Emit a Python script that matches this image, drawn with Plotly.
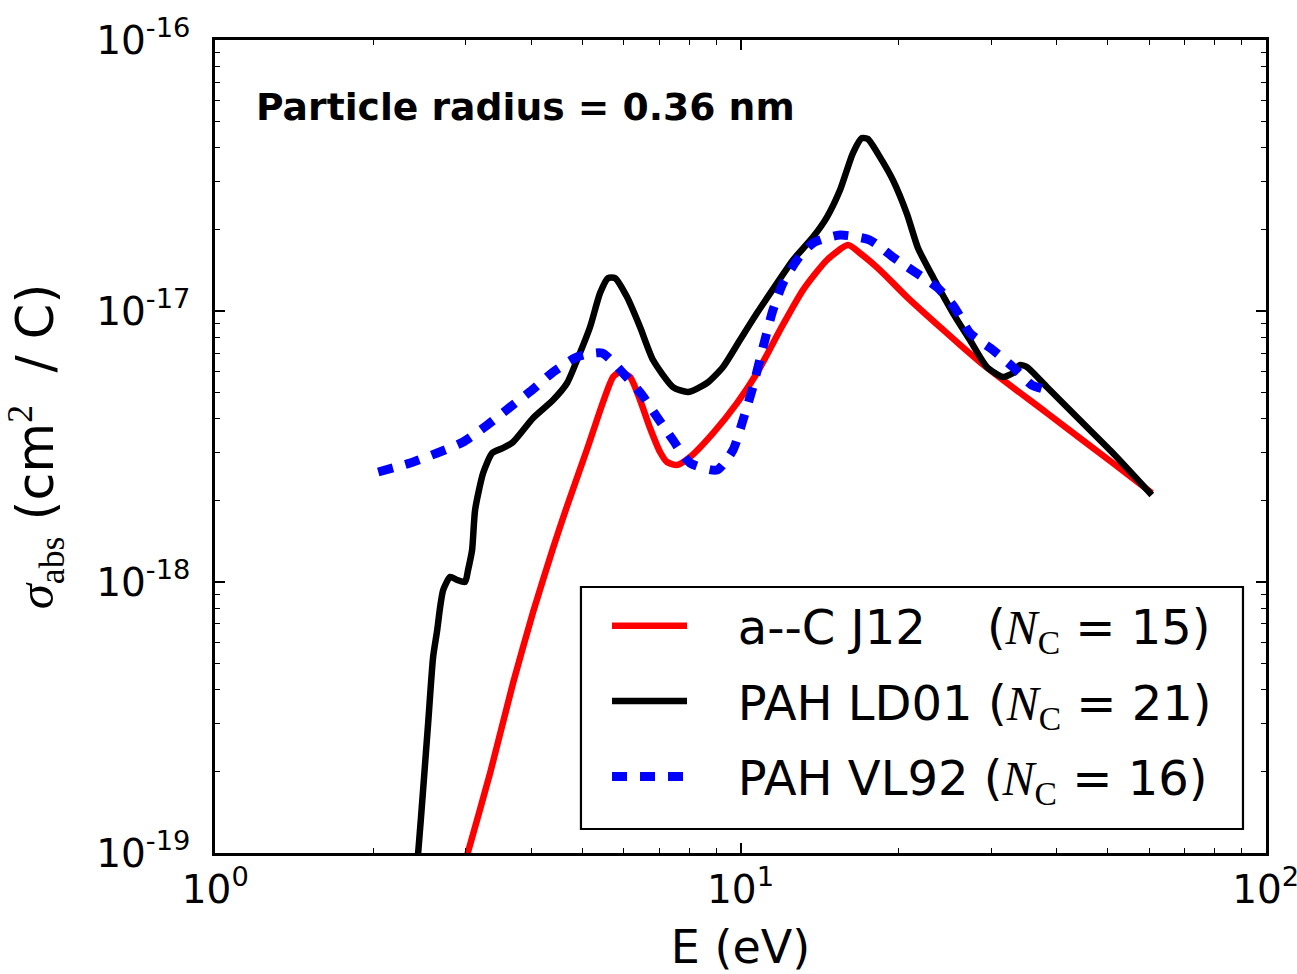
import plotly.graph_objects as go

# ---- data (E in eV, sigma in cm^2/C) ----
E_red = [2.925, 3.029, 3.337, 3.690, 4.029, 4.397, 4.676, 5.105, 5.473, 5.719, 5.897,
         6.163, 6.438, 6.725, 7.028, 7.246, 7.570, 8.015, 8.867, 9.847, 10.75, 11.89,
         13.15, 14.61, 16.02, 16.88, 18.43, 20.75, 28.56, 38.31, 51.15, 60.68]
S_red = [7.95e-20, 1.009e-19, 1.973e-19, 4.24e-19, 7.75e-19, 1.335e-18, 1.908e-18,
         3.095e-18, 4.615e-18, 5.708e-18, 5.955e-18, 5.708e-18, 4.694e-18, 3.70e-18,
         3.018e-18, 2.772e-18, 2.702e-18, 2.893e-18, 3.546e-18, 4.575e-18, 5.904e-18,
         8.508e-18, 1.195e-17, 1.543e-17, 1.752e-17, 1.637e-17, 1.417e-17, 1.126e-17,
         6.485e-18, 4.203e-18, 2.749e-18, 2.13e-18]

E_black = [2.413, 2.434, 2.487, 2.543, 2.599, 2.646, 2.680, 2.716, 2.801, 2.887, 2.990,
           3.029, 3.083, 3.124, 3.236, 3.367, 3.532, 3.690, 4.029, 4.397, 4.676, 4.885,
           5.171, 5.403, 5.596, 5.770, 6.081, 6.438, 6.816, 7.438, 7.946, 8.636, 9.262,
           9.977, 10.75, 11.74, 12.59, 13.74, 14.61, 15.47, 16.37, 17.03, 17.48, 18.43,
           19.51, 20.75, 21.77, 23.25, 25.38, 27.34, 29.45, 31.59, 33.00, 34.02, 35.09,
           38.31, 44.26, 51.15, 60.68]
S_black = [8.65e-20, 1.0e-19, 1.708e-19, 3.02e-19, 5.29e-19, 6.65e-19, 8.08e-19, 9.34e-19,
           1.044e-18, 1.017e-18, 1.0e-18, 1.107e-18, 1.312e-18, 1.844e-18, 2.525e-18,
           2.992e-18, 3.123e-18, 3.286e-18, 4.03e-18, 4.694e-18, 5.424e-18, 6.595e-18,
           8.73e-18, 1.165e-17, 1.323e-17, 1.323e-17, 1.126e-17, 8.73e-18, 6.595e-18,
           5.243e-18, 5.024e-18, 5.424e-18, 6.215e-18, 7.816e-18, 9.83e-18, 1.268e-17,
           1.543e-17, 1.875e-17, 2.223e-17, 2.796e-17, 3.828e-17, 4.35e-17, 4.313e-17,
           3.70e-17, 3.043e-17, 2.28e-17, 1.71e-17, 1.335e-17, 9.83e-18, 7.816e-18,
           6.215e-18, 5.708e-18, 5.904e-18, 6.32e-18, 6.215e-18, 5.243e-18, 3.96e-18,
           2.992e-18, 2.094e-18]

E_blue = [2.043, 2.350, 2.646, 2.964, 3.294, 3.642, 4.011, 4.397, 4.885, 5.450, 5.975,
          6.495, 6.936, 7.438, 8.015, 9.023, 9.677, 10.11, 10.56, 11.04, 11.53, 12.05,
          12.81, 13.74, 15.47, 17.63, 19.51, 21.48, 23.76, 25.60, 27.34, 30.24, 33.00,
          35.87, 38.31]
S_blue = [2.546e-18, 2.749e-18, 2.992e-18, 3.286e-18, 3.795e-18, 4.42e-18, 5.11e-18,
          5.955e-18, 6.766e-18, 6.998e-18, 5.904e-18, 4.898e-18, 4.063e-18, 3.342e-18,
          2.749e-18, 2.59e-18, 3.07e-18, 3.96e-18, 5.243e-18, 7.366e-18, 1.009e-17,
          1.268e-17, 1.543e-17, 1.782e-17, 1.907e-17, 1.828e-17, 1.582e-17, 1.393e-17,
          1.216e-17, 1.026e-17, 8.296e-18, 7.18e-18, 6.215e-18, 5.332e-18, 5.11e-18]

x_tickvals = [1, 10, 100]
x_ticktext = ["10<sup>0</sup>", "10<sup>1</sup>", "10<sup>2</sup>"]
y_tickvals = [1e-19, 1e-18, 1e-17, 1e-16]
y_ticktext = ["10<sup>-19</sup>", "10<sup>-18</sup>", "10<sup>-17</sup>", "10<sup>-16</sup>"]
x_minor = [m * 10 ** d for d in range(0, 2) for m in range(2, 10)]
y_minor = [m * 10.0 ** d for d in range(-19, -16) for m in range(2, 10)]

SERIF = "Liberation Serif"
PAD = "\u00a0\u00a0\u00a0"
NC = "<span style='font-family:%s'><i>N</i><sub>C</sub></span>" % SERIF
names = [
    PAD + "a--C J12    (" + NC + " = 15)",
    PAD + "PAH LD01 (" + NC + " = 21)",
    PAD + "PAH VL92 (" + NC + " = 16)",
]

fig = go.Figure()
fig.add_trace(go.Scatter(x=E_red, y=S_red, mode="lines", name=names[0], legendgroup="a",
                         line=dict(color="#ff0000", width=6.5, shape="spline", smoothing=0.6)))
fig.add_trace(go.Scatter(x=E_black, y=S_black, mode="lines", name=names[1], legendgroup="b",
                         line=dict(color="#000000", width=6.5, shape="spline", smoothing=0.6)))
fig.add_trace(go.Scatter(x=E_blue, y=S_blue, mode="lines", name=names[2], legendgroup="c",
                         line=dict(color="#0000ff", width=9, dash="15px,13px",
                                   shape="spline", smoothing=0.6)))

FONT = "DejaVu Sans"
axis_common = dict(
    type="log", showgrid=False, zeroline=False, showline=True, linecolor="black",
    linewidth=2.5, mirror="ticks", ticks="inside", ticklen=10, tickwidth=1.5,
    tickcolor="black", tickfont=dict(family=FONT, size=39, color="black"),
    ticklabeloverflow="allow", automargin=False,
)

fig.update_xaxes(
    **axis_common, range=[-0.0005, 2.0005], tickmode="array", tickvals=x_tickvals,
    ticktext=x_ticktext,
    minor=dict(ticks="inside", ticklen=5, tickwidth=1.2, tickcolor="black",
               tickmode="array", tickvals=x_minor, showgrid=False),
    title=dict(text="E (eV)", font=dict(family=FONT, size=46, color="black"), standoff=32),
)
fig.update_yaxes(
    **axis_common, range=[-19.0005, -15.9995], tickmode="array", tickvals=y_tickvals,
    ticktext=y_ticktext, ticklabelstandoff=14,
    minor=dict(ticks="inside", ticklen=5, tickwidth=1.2, tickcolor="black",
               tickmode="array", tickvals=y_minor, showgrid=False),
    title=dict(
        text="\u00a0<span style='font-family:%s'><i>σ</i><sub>abs</sub></span> (cm<sup><span style='font-family:%s'>2</span></sup>\u00a0 / C)" % (SERIF, SERIF),
        font=dict(family=FONT, size=51, color="black"), standoff=40),
)

fig.add_annotation(
    text="<b>Particle radius = 0.36 nm</b>", xref="paper", yref="paper",
    x=0.037, y=0.9176, xanchor="left", yanchor="middle", showarrow=False,
    font=dict(family=FONT, size=37.7, color="black"),
)

# legend frame (opaque box like the reference)
fig.add_shape(type="rect", xref="paper", yref="paper",
              x0=0.3482, x1=0.9781, y0=0.0295, y1=0.3272,
              line=dict(color="black", width=2.2), fillcolor="white", layer="above")

fig.update_layout(
    width=1297, height=974,
    margin=dict(l=215, r=31, t=40, b=121),
    paper_bgcolor="white", plot_bgcolor="white",
    showlegend=True,
    legend=dict(
        x=0.373, y=0.326, xanchor="left", yanchor="top",
        bgcolor="rgba(0,0,0,0)", borderwidth=0,
        font=dict(family=FONT, size=48, color="black"),
        tracegroupgap=10, itemwidth=75,
    ),
)

fig.write_html(
    "out.html",
    config={"displayModeBar": False},
    post_script="document.body.style.margin='0px';document.body.style.overflow='hidden';",
)
